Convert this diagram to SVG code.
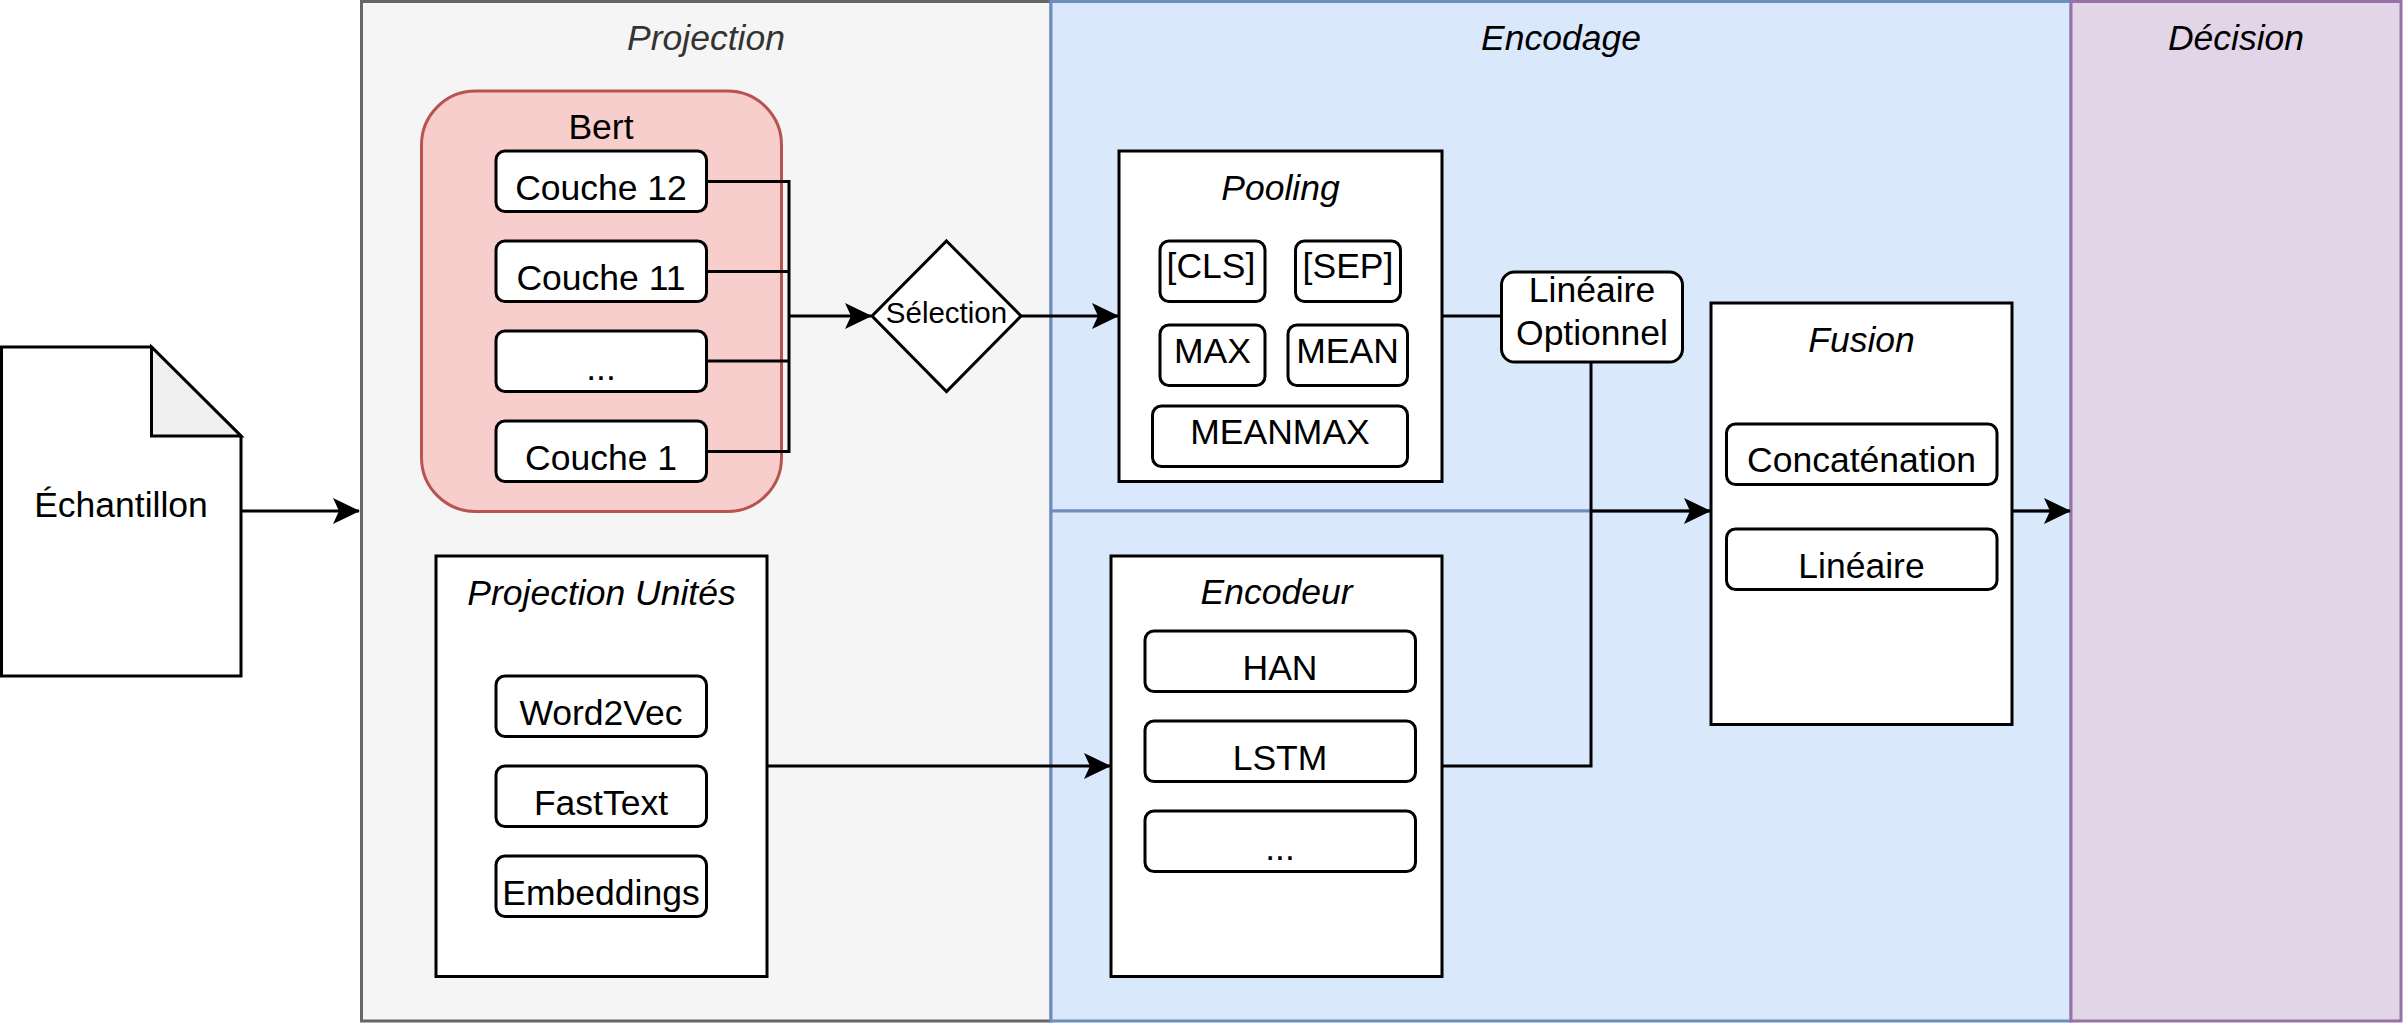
<svg xmlns="http://www.w3.org/2000/svg" width="2403" height="1023" viewBox="0 0 2403 1023">
<style>
text{font-family:"Liberation Sans",Arial,Helvetica,sans-serif;font-size:35.5px;fill:#000;text-anchor:middle}
.it{font-style:italic}
.box{fill:#fff;stroke:#000;stroke-width:3}
.item{fill:#fff;stroke:#000;stroke-width:3}
.conn{fill:none;stroke:#000;stroke-width:3}
</style>
<defs>
<marker id="arr" viewBox="0 0 27 26" refX="26" refY="13" markerWidth="27" markerHeight="26" markerUnits="userSpaceOnUse" orient="auto">
<path d="M0,0 L27,13 L0,26 L6,13 Z" fill="#000"/>
</marker>
</defs>

<g id="panel-projection">
<rect x="361.5" y="1.5" width="689.5" height="1019.5" fill="#f5f5f5" stroke="#666666" stroke-width="3"/>
<text class="it" x="706" y="50" style="fill:#333333">Projection</text>
</g>
<g id="panel-encodage">
<rect x="1051" y="1.5" width="1020" height="509.5" fill="#dae8fc" stroke="#6c8ebf" stroke-width="3"/>
<rect x="1051" y="511" width="1020" height="510" fill="#dae8fc" stroke="#6c8ebf" stroke-width="3"/>
<text class="it" x="1561" y="50">Encodage</text>
</g>
<g id="panel-decision">
<rect x="2071" y="1.5" width="330" height="1019.5" fill="#e1d5e7" stroke="#9673a6" stroke-width="3"/>
<text class="it" x="2236" y="50">Décision</text>
</g>

<g id="echantillon">
<path d="M1.5,347 L151.5,347 L241,436 L241,676 L1.5,676 Z" fill="#fff" stroke="#000" stroke-width="3"/>
<path d="M151.5,347 L151.5,436 L241,436 Z" fill="#f0f0f0" stroke="#000" stroke-width="3" stroke-linejoin="miter"/>
<text x="121" y="517">Échantillon</text>
</g>

<g id="bert">
<rect x="421.5" y="91" width="360" height="420.5" rx="54" ry="54" fill="#f8cecc" stroke="#b85450" stroke-width="3"/>
<text x="601" y="139">Bert</text>
</g>
<g id="couche12">
<rect class="item" x="496" y="151" width="210.5" height="60.5" rx="9"/>
<text x="601" y="200">Couche 12</text>
</g>
<g id="couche11">
<rect class="item" x="496" y="241" width="210.5" height="60.5" rx="9"/>
<text x="601" y="290">Couche 11</text>
</g>
<g id="couche-etc">
<rect class="item" x="496" y="331" width="210.5" height="60.5" rx="9"/>
<text x="601" y="380">...</text>
</g>
<g id="couche1">
<rect class="item" x="496" y="421" width="210.5" height="60.5" rx="9"/>
<text x="601" y="470">Couche 1</text>
</g>

<g id="projection-unites">
<rect class="box" x="436" y="556" width="331" height="420.5"/>
<text class="it" x="601.5" y="605">Projection Unités</text>
</g>
<g id="word2vec">
<rect class="item" x="496" y="676" width="210.5" height="60.5" rx="9"/>
<text x="601" y="725">Word2Vec</text>
</g>
<g id="fasttext">
<rect class="item" x="496" y="766" width="210.5" height="60.5" rx="9"/>
<text x="601" y="815">FastText</text>
</g>
<g id="embeddings">
<rect class="item" x="496" y="856" width="210.5" height="60.5" rx="9"/>
<text x="601" y="905">Embeddings</text>
</g>

<g id="selection">
<path d="M946.5,241 L1021,316 L946.5,391.5 L872,316 Z" fill="#fff" stroke="#000" stroke-width="3"/>
<text x="946.5" y="323" style="font-size:29.5px">Sélection</text>
</g>

<g id="pooling">
<rect class="box" x="1119" y="151" width="323" height="330.5"/>
<text class="it" x="1280.5" y="200">Pooling</text>
</g>
<g id="cls">
<rect class="item" x="1160" y="241" width="105" height="60.5" rx="9"/>
<text x="1211" y="278">[CLS]</text>
</g>
<g id="sep">
<rect class="item" x="1295.5" y="241" width="105" height="60.5" rx="9"/>
<text x="1348" y="278">[SEP]</text>
</g>
<g id="max">
<rect class="item" x="1160" y="325" width="105" height="60.5" rx="9"/>
<text x="1212.5" y="363">MAX</text>
</g>
<g id="mean">
<rect class="item" x="1288" y="325" width="119.5" height="60.5" rx="9"/>
<text x="1347.5" y="363">MEAN</text>
</g>
<g id="meanmax">
<rect class="item" x="1152.5" y="406" width="255" height="60.5" rx="9"/>
<text x="1280" y="444">MEANMAX</text>
</g>

<g id="lineaire-optionnel">
<rect class="item" x="1501.5" y="272" width="181" height="90" rx="13"/>
<text x="1592" y="301.5">Linéaire</text>
<text x="1592" y="345">Optionnel</text>
</g>

<g id="encodeur">
<rect class="box" x="1111" y="556" width="331" height="420.5"/>
<text class="it" x="1276.5" y="604">Encodeur</text>
</g>
<g id="han">
<rect class="item" x="1145" y="631" width="270.5" height="60.5" rx="9"/>
<text x="1280" y="680">HAN</text>
</g>
<g id="lstm">
<rect class="item" x="1145" y="721" width="270.5" height="60.5" rx="9"/>
<text x="1280" y="769.5">LSTM</text>
</g>
<g id="encodeur-etc">
<rect class="item" x="1145" y="811" width="270.5" height="60.5" rx="9"/>
<text x="1280" y="859.5">...</text>
</g>

<g id="fusion">
<rect class="box" x="1711" y="303" width="301" height="421.5"/>
<text class="it" x="1861.5" y="352">Fusion</text>
</g>
<g id="concatenation">
<rect class="item" x="1726.5" y="424" width="270.5" height="60.5" rx="9"/>
<text x="1861.5" y="471.5">Concaténation</text>
</g>
<g id="lineaire">
<rect class="item" x="1726.5" y="529" width="270.5" height="60.5" rx="9"/>
<text x="1861.5" y="578">Linéaire</text>
</g>

<g id="connectors">
<path class="conn" d="M241,511 L359,511" marker-end="url(#arr)"/>
<path class="conn" d="M706.5,181.5 L789,181.5 M706.5,271.5 L789,271.5 M706.5,361 L789,361 M706.5,451.5 L789,451.5 M789,180 L789,453"/>
<path class="conn" d="M789,316 L871,316" marker-end="url(#arr)"/>
<path class="conn" d="M1021,316 L1118,316" marker-end="url(#arr)"/>
<path class="conn" d="M1442,316 L1501.5,316"/>
<path class="conn" d="M767,766 L1110,766" marker-end="url(#arr)"/>
<path class="conn" d="M1442,766 L1591,766 L1591,362"/>
<path class="conn" d="M1591,511 L1710,511" marker-end="url(#arr)"/>
<path class="conn" d="M2012,511 L2070,511" marker-end="url(#arr)"/>
</g>
</svg>
